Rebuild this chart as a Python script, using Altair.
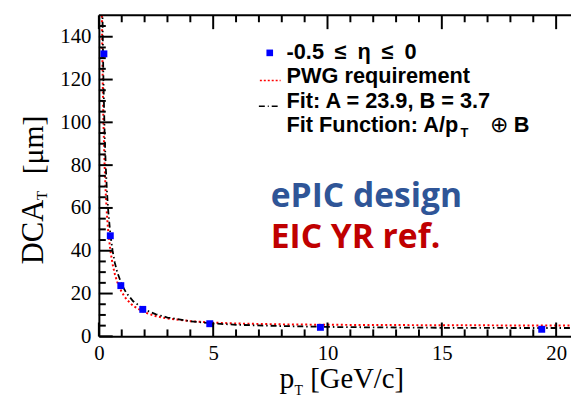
import altair as alt
import pandas as pd

# ---- data ----
pt_points = [0.22, 0.50, 0.96, 1.92, 4.85, 9.69, 19.37]
dca_points = [132.0, 47.0, 23.7, 12.6, 5.9, 4.2, 3.3]

fit_pt = [0.15, 0.16, 0.18, 0.2, 0.25, 0.3, 0.35, 0.4, 0.5, 0.6, 0.7, 0.8, 1.0, 1.2,
          1.5, 2.0, 2.5, 3.0, 4.0, 5.0, 6.0, 8.0, 10.0, 12.0, 15.0, 18.0, 20.7]
fit_dca = [159.4, 149.4, 132.8, 119.6, 95.7, 79.8, 68.4, 59.9, 47.9, 40.0, 34.3, 30.1, 24.2, 20.3,
           16.4, 12.5, 10.3, 8.8, 7.0, 6.0, 5.4, 4.8, 4.4, 4.2, 4.0, 3.9, 3.9]

pwg_pt = [0.13, 0.15, 0.18, 0.2, 0.25, 0.3, 0.35, 0.4, 0.5, 0.6, 0.7, 0.8, 1.0, 1.2,
          1.5, 2.0, 2.5, 3.0, 4.0, 5.0, 6.0, 8.0, 10.0, 12.0, 15.0, 18.0, 20.7]
pwg_dca = [153.9, 133.4, 111.2, 100.1, 80.2, 66.9, 57.4, 50.2, 40.3, 33.7, 29.0, 25.5, 20.6, 17.4,
           14.2, 11.2, 9.4, 8.3, 7.1, 6.4, 6.0, 5.6, 5.4, 5.3, 5.2, 5.1, 5.1]

x_major = [0, 5, 10, 15, 20]
x_minor = [1, 2, 3, 4, 6, 7, 8, 9, 11, 12, 13, 14, 16, 17, 18, 19]
y_major = [0, 20, 40, 60, 80, 100, 120, 140]
y_minor = [5, 10, 15, 25, 30, 35, 45, 50, 55, 65, 70, 75, 85, 90, 95,
           105, 110, 115, 125, 130, 135, 145]

legend_labels = ["-0.5\u2002\u2264\u2002\u03b7\u2002\u2264\u20020", "PWG requirement",
                 "Fit: A = 23.9, B = 3.7", "Fit Function: A/p"]

W, H = 478, 325
xscale = alt.Scale(domain=[0, 20.65], nice=False, zero=False)
yscale = alt.Scale(domain=[0, 150], nice=False, zero=False)
xaxis = alt.Axis(values=x_major, title=None, format="d", ticks=False, grid=False,
                 labelPadding=6, labelFlush=False)
yaxis = alt.Axis(values=y_major, title=None, format="d", ticks=False, grid=False,
                 labelPadding=8)

pts = pd.DataFrame({"x": pt_points, "y": dca_points})
fit = pd.DataFrame({"x": fit_pt, "y": fit_dca})
pwg = pd.DataFrame({"x": pwg_pt, "y": pwg_dca})

X = alt.X("x:Q", scale=xscale, axis=xaxis)
Y = alt.Y("y:Q", scale=yscale, axis=yaxis)

pwg_line = alt.Chart(pwg).mark_line(color="#ff0000", strokeWidth=2, strokeDash=[2, 2.5],
                                    clip=True).encode(x=X, y=Y)
fit_line = alt.Chart(fit).mark_line(color="black", strokeWidth=1.8, strokeDash=[6, 3, 1.5, 3],
                                    clip=True).encode(x=X, y=Y)
points = alt.Chart(pts).mark_point(shape="square", filled=True, color="#0000ff", size=49,
                                   opacity=1).encode(x=X, y=Y)

def xticks(vals, length):
    d = pd.DataFrame({"x": vals})
    bottom = alt.Chart(d).mark_rule(color="black", strokeWidth=2).encode(
        x=X, y=alt.value(H), y2=alt.value(H - length))
    top = alt.Chart(d).mark_rule(color="black", strokeWidth=2).encode(
        x=X, y=alt.value(0), y2=alt.value(length))
    return [bottom, top]

def yticks(vals, length):
    d = pd.DataFrame({"y": vals})
    return [alt.Chart(d).mark_rule(color="black", strokeWidth=2).encode(
        y=Y, x=alt.value(0), x2=alt.value(length))]

frame_top = alt.Chart(pd.DataFrame({"a": [0]})).mark_rule(color="black", strokeWidth=2).encode(
    x=alt.value(0), x2=alt.value(W), y=alt.value(0))

def txt(s, x, y, size, font="Liberation Sans", bold=True, color="black", angle=0):
    kw = dict(text=s, align="left", baseline="alphabetic", font=font, fontSize=size,
              fontWeight="bold" if bold else "normal", color=color)
    if angle:
        kw["angle"] = angle
    return alt.Chart(pd.DataFrame({"a": [0]})).mark_text(**kw).encode(
        x=alt.value(x), y=alt.value(y))

# legend
leg_marker = alt.Chart(pd.DataFrame({"a": [0]})).mark_point(
    shape="square", filled=True, color="#0000ff", size=45, opacity=1).encode(
    x=alt.value(173), y=alt.value(38))
leg_red = alt.Chart(pd.DataFrame({"a": [0]})).mark_rule(
    color="#ff0000", strokeWidth=1.6, strokeDash=[2, 2]).encode(
    x=alt.value(163), x2=alt.value(184), y=alt.value(66))
leg_black = alt.Chart(pd.DataFrame({"a": [0]})).mark_rule(
    color="black", strokeWidth=1.4, strokeDash=[6, 3, 1, 3]).encode(
    x=alt.value(162), x2=alt.value(184), y=alt.value(92))

texts = [
    txt(legend_labels[0], 190, 44, 22),
    txt(legend_labels[1], 190, 69, 22),
    txt(legend_labels[2], 190, 94, 22),
    txt(legend_labels[3], 190, 118, 22),
    txt("T", 366, 123, 13),
    txt("\u2295", 396, 118, 22, bold=False),
    txt("B", 420, 118, 22),
    txt("ePIC design", 174, 194, 34, font="Open Sans", color="#2f5597"),
    txt("EIC YR ref.", 174, 236, 34, font="Open Sans", color="#c00000"),
    # x title
    txt("p", 183, 377, 30, font="Liberation Serif", bold=False),
    txt("T", 198, 384, 14, font="Liberation Serif", bold=False),
    txt("[GeV/c]", 214, 377, 29, font="Liberation Serif", bold=False),
    # y title (rotated)
    txt("DCA", -57, 252, 31, font="Liberation Serif", bold=False, angle=270),
    txt("T", -53, 187, 15, font="Liberation Serif", bold=False, angle=270),
    txt("[\u03bcm]", -57, 161, 30, font="Liberation Serif", bold=False, angle=270),
]

layers = ([pwg_line, fit_line, points, frame_top]
          + xticks(x_major, 14) + xticks(x_minor, 7)
          + yticks(y_major, 14) + yticks(y_minor, 7)
          + [leg_marker, leg_red, leg_black] + texts)

chart = alt.layer(*layers).properties(
    width=W, height=H,
    autosize=alt.AutoSizeParams(type="none"),
    padding={"left": 92, "top": 5, "right": 0, "bottom": 60},
    background="white",
).configure_view(stroke=None).configure_axis(
    labelFont="Liberation Serif", labelFontSize=21, labelColor="black",
    domainColor="black", domainWidth=2,
)

chart.save("out.html", embed_options={"renderer": "svg", "actions": False})
